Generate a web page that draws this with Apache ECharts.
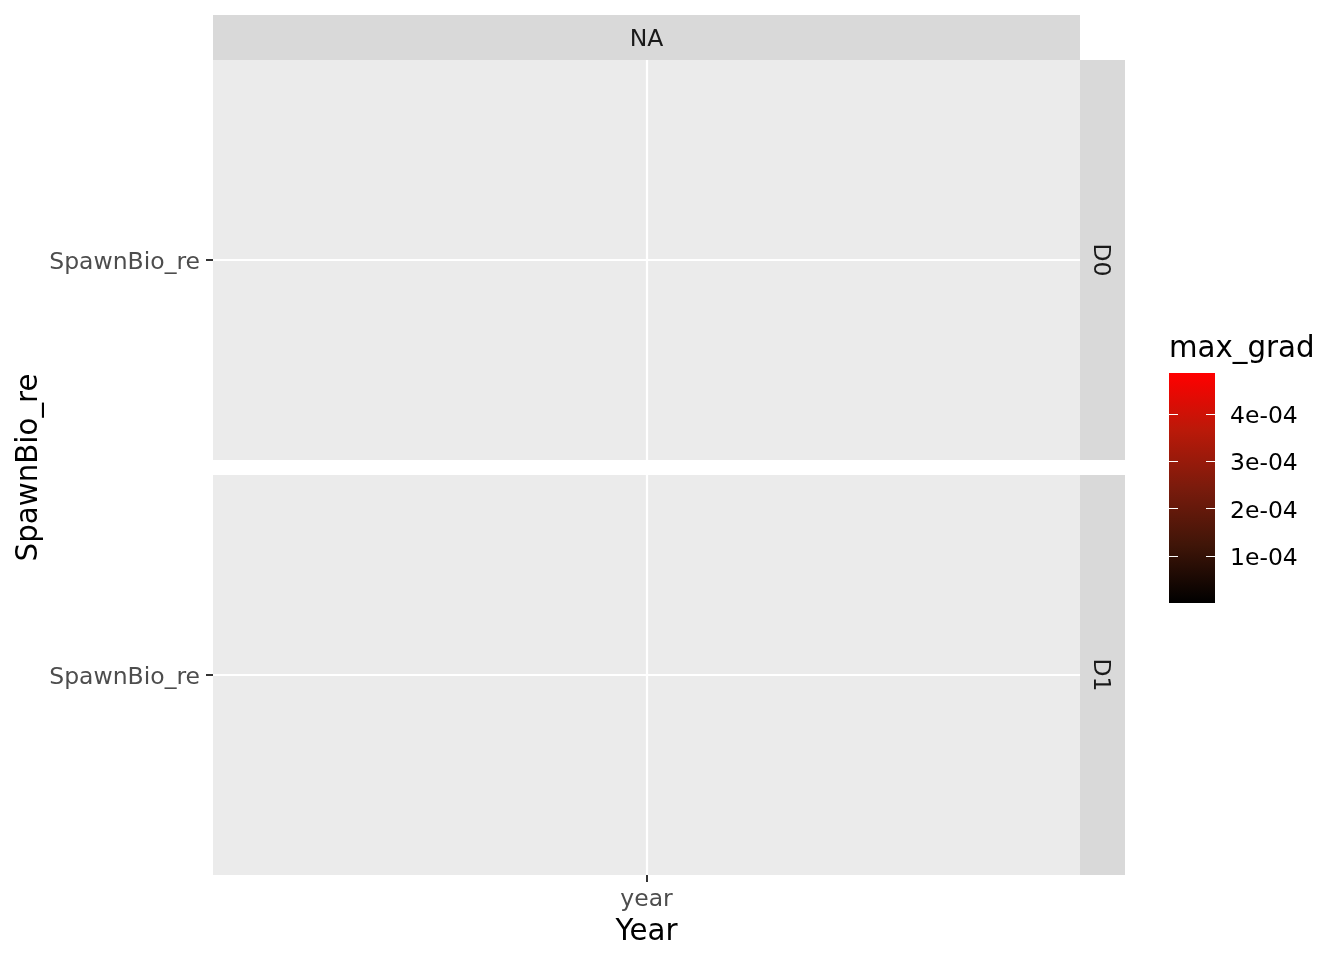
<!DOCTYPE html>
<html><head><meta charset="utf-8">
<script src="https://cdn.jsdelivr.net/npm/echarts@6/dist/echarts.min.js"></script>
<style>html,body{margin:0;padding:0;background:#fff}#c{width:1344px;height:960px}</style>
</head><body><div id="c"></div>
<script>
// ---- data ----
const xCategories = ['year'];
const yCategories = ['SpawnBio_re'];
const columnFacets = ['NA'];
const rowFacets = ['D0', 'D1'];
const valuesD0 = []; // no visible max_grad cells in panel D0
const valuesD1 = []; // no visible max_grad cells in panel D1
const legendTicks = [1e-4, 2e-4, 3e-4, 4e-4];
const legendLimits = [0, 4.87e-4];
const xTitle = 'Year';
const yTitle = 'SpawnBio_re';
const legendTitle = 'max_grad';

const FONT = '"DejaVu Sans", Verdana, sans-serif';
const chart = echarts.init(document.getElementById('c'), null, {renderer: 'canvas'});

function sci(v) {
  return v.toExponential(0).replace(/e([+-])(\d)$/, 'e$10$2');
}

const panelGrid = (top) => ({left: 213, top: top, width: 867, height: 400, show: true,
  backgroundColor: '#EBEBEB', borderWidth: 0, containLabel: false});

const catX = (gi, showTicks) => ({
  type: 'category', gridIndex: gi, data: xCategories, boundaryGap: true,
  axisLine: {show: false},
  axisTick: {show: showTicks, alignWithLabel: true, length: 7, lineStyle: {color: '#333333', width: 2}},
  axisLabel: {show: showTicks, margin: 13, fontSize: 23.5, fontFamily: FONT, color: '#4D4D4D'},
  splitLine: {show: true, alignWithLabel: true, lineStyle: {color: '#FFFFFF', width: 2.2}},
  name: showTicks ? xTitle : '', nameLocation: 'middle', nameGap: 43,
  nameTextStyle: {fontSize: 29.3, fontFamily: FONT, color: '#000000'}
});
const catY = (gi) => ({
  type: 'category', gridIndex: gi, data: yCategories, boundaryGap: true,
  axisLine: {show: false},
  axisTick: {show: true, alignWithLabel: true, length: 7, lineStyle: {color: '#333333', width: 2}},
  axisLabel: {show: true, margin: 13, fontSize: 23.5, fontFamily: FONT, color: '#4D4D4D',
    verticalAlign: 'top', lineHeight: 5},
  splitLine: {show: true, alignWithLabel: true, lineStyle: {color: '#FFFFFF', width: 2.2}}
});

const barGradient = new echarts.graphic.LinearGradient(0, 0, 0, 1, [
  {offset: 0, color: '#FF0000'},
  {offset: 0.25, color: 'rgb(186,25,9)'},
  {offset: 0.5, color: 'rgb(122,27,12)'},
  {offset: 0.75, color: 'rgb(63,21,8)'},
  {offset: 1, color: '#000000'}
]);

const option = {
  backgroundColor: '#FFFFFF',
  animation: false,
  grid: [panelGrid(60), panelGrid(475),
    {left: 1169, top: 373, width: 46, height: 230, show: false, containLabel: false}],
  xAxis: [catX(0, false), catX(1, true),
    {type: 'category', gridIndex: 2, data: ['bar'], show: false, boundaryGap: true}],
  yAxis: [catY(0), catY(1),
    {type: 'value', gridIndex: 2, position: 'right', min: legendLimits[0], max: legendLimits[1],
     interval: 1e-4, z: 5,
     axisLine: {show: false},
     axisTick: {show: true, inside: true, length: 9, customValues: legendTicks, lineStyle: {color: '#FFFFFF', width: 1}},
     axisLabel: {show: true, inside: false, margin: 15, customValues: legendTicks, formatter: sci,
       fontSize: 23.5, fontFamily: FONT, color: '#000000', verticalAlign: 'top', lineHeight: 6},
     splitLine: {show: false}},
    {type: 'value', gridIndex: 2, position: 'left', min: legendLimits[0], max: legendLimits[1],
     interval: 1e-4, z: 5,
     axisLine: {show: false},
     axisTick: {show: true, inside: true, length: 9, customValues: legendTicks, lineStyle: {color: '#FFFFFF', width: 1}},
     axisLabel: {show: false},
     splitLine: {show: false}}
  ],
  visualMap: {show: false, min: legendLimits[0], max: legendLimits[1], seriesIndex: [0, 1],
    inRange: {color: ['#000000', '#FF0000']}},
  series: [
    {type: 'heatmap', xAxisIndex: 0, yAxisIndex: 0, data: valuesD0},
    {type: 'heatmap', xAxisIndex: 1, yAxisIndex: 1, data: valuesD1},
    {type: 'bar', xAxisIndex: 2, yAxisIndex: 2, data: [legendLimits[1]], barWidth: '100%',
     silent: true, itemStyle: {color: barGradient}}
  ],
  graphic: [
    {type: 'rect', shape: {x: 213, y: 15, width: 867, height: 45}, style: {fill: '#D9D9D9'}},
    {type: 'text', x: 646.5, y: 40, style: {text: columnFacets[0], font: '23.5px ' + FONT,
      fill: '#1A1A1A', textAlign: 'center', textVerticalAlign: 'middle'}},
    {type: 'rect', shape: {x: 1080, y: 60, width: 45, height: 400}, style: {fill: '#D9D9D9'}},
    {type: 'rect', shape: {x: 1080, y: 475, width: 45, height: 400}, style: {fill: '#D9D9D9'}},
    {type: 'text', x: 1100.5, y: 260, rotation: -Math.PI / 2, style: {text: rowFacets[0],
      font: '23.5px ' + FONT, fill: '#1A1A1A', textAlign: 'center', textVerticalAlign: 'middle'}},
    {type: 'text', x: 1100.5, y: 675, rotation: -Math.PI / 2, style: {text: rowFacets[1],
      font: '23.5px ' + FONT, fill: '#1A1A1A', textAlign: 'center', textVerticalAlign: 'middle'}},
    {type: 'text', x: 29, y: 467.5, rotation: Math.PI / 2, style: {text: yTitle,
      font: '29.3px ' + FONT, fill: '#000000', textAlign: 'center', textVerticalAlign: 'middle'}},
    {type: 'text', x: 1169, y: 349, style: {text: legendTitle,
      font: '29.3px ' + FONT, fill: '#000000', textAlign: 'left', textVerticalAlign: 'middle'}}
  ]
};
chart.setOption(option);
</script>
</body></html>
